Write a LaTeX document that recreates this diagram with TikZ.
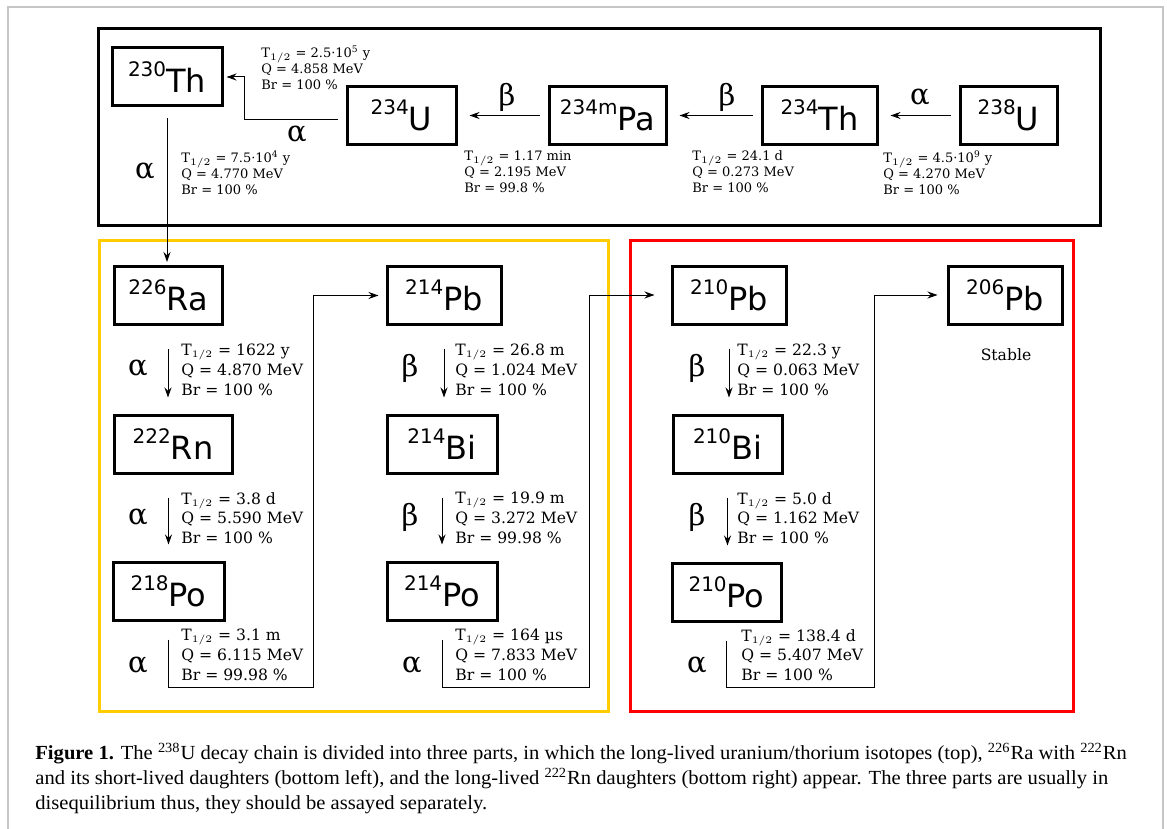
\documentclass[tikz,border=0pt]{standalone}
\usepackage{fontspec}
\setmainfont{DejaVu Serif}
\newfontfamily\nucfont{DejaVu Sans}
\newfontfamily\capfont[FakeStretch=1.03]{Liberation Serif}
\usetikzlibrary{arrows.meta}
\definecolor{partyellow}{HTML}{FFCC00}
\definecolor{partred}{HTML}{FF0000}

% nuclide label: mass number raised before the symbol
\newcommand{\nuc}[2]{\raisebox{8pt}{\fontsize{10}{10}\selectfont #1}#2}
\newcommand{\decaydata}[3]{T$_{1/2}$ = #1\\Q = #2 MeV\\Br = #3 \%}

\tikzset{
  nuclide/.style={draw, line width=1.5pt, minimum width=#1, minimum height=29pt,
    inner sep=0pt, font=\nucfont\fontsize{16}{16}\selectfont},
  decaymode/.style={inner sep=0pt, font=\fontsize{14.5}{14.5}\selectfont},
  topdata/.style={anchor=north west, align=left, inner sep=0pt, font=\fontsize{6.5}{8}\selectfont},
  botdata/.style={anchor=north west, align=left, inner sep=0pt, font=\fontsize{7.8}{9.8}\selectfont},
  chain/.style={-{Stealth[length=5pt,width=3.5pt]}, line width=0.5pt, shorten <=4pt, shorten >=6pt},
  decay/.style={chain, shorten <=11.5pt, shorten >=8pt},
}

\begin{document}
\begin{tikzpicture}[x=0.5pt, y=-0.5pt]
    \useasboundingbox (0,0) rectangle (1167,829);
    \draw[gray!45, line width=0.6pt] (8,7) rectangle (1163,840);

    % the three parts
    \draw[line width=1.5pt] (98,29) rectangle (1100,225);
    \draw[line width=1.5pt, partyellow] (99,240) rectangle (608,711);
    \draw[line width=1.5pt, partred] (630,240) rectangle (1073,711);

    % long-lived U/Th part
    \node[nuclide=55pt] (th230) at (167,77) {\nuc{230}{Th}};
    \node[nuclide=54.5pt] (u234) at (401.5,115.5) {\nuc{234}{U}};
    \node[nuclide=58.5pt] (pa234) at (607.5,115.5) {\nuc{234m}{Pa}};
    \node[nuclide=57.5pt] (th234) at (819.5,115.5) {\nuc{234}{Th}};
    \node[nuclide=48.5pt] (u238) at (1008.5,115.5) {\nuc{238}{U}};

    \draw[chain] (u238) -- (th234);
    \draw[chain] (th234) -- (pa234);
    \draw[chain] (pa234) -- (u234);
    \coordinate (bendU) at (244,77);
    \draw[chain, shorten >=1.5pt] ([yshift=-2pt]u234.west) -| (bendU) -- (th230.east);
    \draw[chain, shorten <=5.5pt, shorten >=2pt] (th230.south) -- (th230.south |- 0,266);

    \node[decaymode] (m238) at (920,97) {α};
    \node[decaymode] (m234th) at (727,97) {β};
    \node[decaymode] (m234pa) at (507,97) {β};
    \node[decaymode] (m234u) at (297,134) {α};
    \node[decaymode] (m230) at (145,171) {α};

    \node[topdata] (d238) at (883,150) {\decaydata{4.5·10\textsuperscript{9} y}{4.270}{100}};
    \node[topdata] (d234th) at (692,150) {\decaydata{24.1 d}{0.273}{100}};
    \node[topdata] (d234pa) at (464,150) {\decaydata{1.17 min}{2.195}{99.8}};
    \node[topdata] (d234u) at (261,45) {\decaydata{2.5·10\textsuperscript{5} y}{4.858}{100}};
    \node[topdata] (d230) at (181,150) {\decaydata{7.5·10\textsuperscript{4} y}{4.770}{100}};

    % 226Ra and short-lived daughters
    \node[nuclide=54pt] (ra226) at (168,295.5) {\nuc{226}{Ra}};
    \node[nuclide=59pt] (rn222) at (173,444) {\nuc{222}{Rn}};
    \node[nuclide=55.5pt] (po218) at (168.5,591) {\nuc{218}{Po}};
    \node[nuclide=57pt] (pb214) at (444,295.5) {\nuc{214}{Pb}};
    \node[nuclide=55pt] (bi214) at (442,444) {\nuc{214}{Bi}};
    \node[nuclide=55pt] (po214) at (442,591) {\nuc{214}{Po}};

    \draw[decay] (ra226.south) -- (ra226.south |- rn222.north);
    \draw[decay] (po218.north |- rn222.south) -- (po218.north);
    \draw[decay] (pb214.south) -- (pb214.south |- bi214.north);
    \draw[decay] (bi214.south) -- (po214.north);
    \coordinate (jumpA) at (313,687);
    \coordinate (jumpB) at (589,687);
    \draw[chain, shorten <=9pt, shorten >=3.5pt] (po218.south) |- (jumpA) |- (pb214.west);

    \node[decaymode] (m226) at (138,368) {α};
    \node[decaymode] (m222) at (138,517) {α};
    \node[decaymode] (m218) at (138,665) {α};
    \node[decaymode] (m214pb) at (410,368) {β};
    \node[decaymode] (m214bi) at (410,517) {β};
    \node[decaymode] (m214po) at (412,665) {α};

    \node[botdata] (d226) at (181,344) {\decaydata{1622 y}{4.870}{100}};
    \node[botdata] (d222) at (181,492) {\decaydata{3.8 d}{5.590}{100}};
    \node[botdata] (d218) at (181,629) {\decaydata{3.1 m}{6.115}{99.98}};
    \node[botdata] (d214pb) at (455,344) {\decaydata{26.8 m}{1.024}{100}};
    \node[botdata] (d214bi) at (455,492) {\decaydata{19.9 m}{3.272}{99.98}};
    \node[botdata] (d214po) at (455,629) {\decaydata{164 µs}{7.833}{100}};

    % long-lived 222Rn daughters
    \node[nuclide=57pt] (pb210) at (729,295) {\nuc{210}{Pb}};
    \node[nuclide=54.5pt] (bi210) at (727.5,444) {\nuc{210}{Bi}};
    \node[nuclide=54.5pt] (po210) at (726.5,592) {\nuc{210}{Po}};
    \node[nuclide=57pt] (pb206) at (1005,295) {\nuc{206}{Pb}};

    \draw[chain, shorten <=9pt, shorten >=8pt] (po214.south) |- (jumpB) |- (pb210.west);
    \draw[decay] (pb210.south) -- (pb210.south |- bi210.north);
    \draw[decay] (bi210.south) -- (bi210.south |- po210.north);
    \coordinate (jumpC) at (874,687);
    \draw[chain, shorten <=9pt, shorten >=4.5pt] (po210.south) |- (jumpC) |- (pb206.west);

    \node[decaymode] (m210pb) at (697,368) {β};
    \node[decaymode] (m210bi) at (697,517) {β};
    \node[decaymode] (m210po) at (697,665) {α};

    \node[botdata] (d210pb) at (737,344) {\decaydata{22.3 y}{0.063}{100}};
    \node[botdata] (d210bi) at (737,492) {\decaydata{5.0 d}{1.162}{100}};
    \node[botdata] (d210po) at (741,629) {\decaydata{138.4 d}{5.407}{100}};
    \node[font=\fontsize{7.8}{9}\selectfont] (stable) at (1006,355) {Stable};

    \node[anchor=north west, align=left, inner sep=0pt, font=\capfont\fontsize{10}{12.5}\selectfont] (caption) at (35,743)
      {\textbf{Figure 1.} The \textsuperscript{238}U decay chain is divided into three parts, in which the long-lived uranium/thorium isotopes (top), \textsuperscript{226}Ra with \textsuperscript{222}Rn\\
       and its short-lived daughters (bottom left), and the long-lived \textsuperscript{222}Rn daughters (bottom right) appear. The three parts are usually in\\
       disequilibrium thus, they should be assayed separately.};
\end{tikzpicture}
\end{document}
